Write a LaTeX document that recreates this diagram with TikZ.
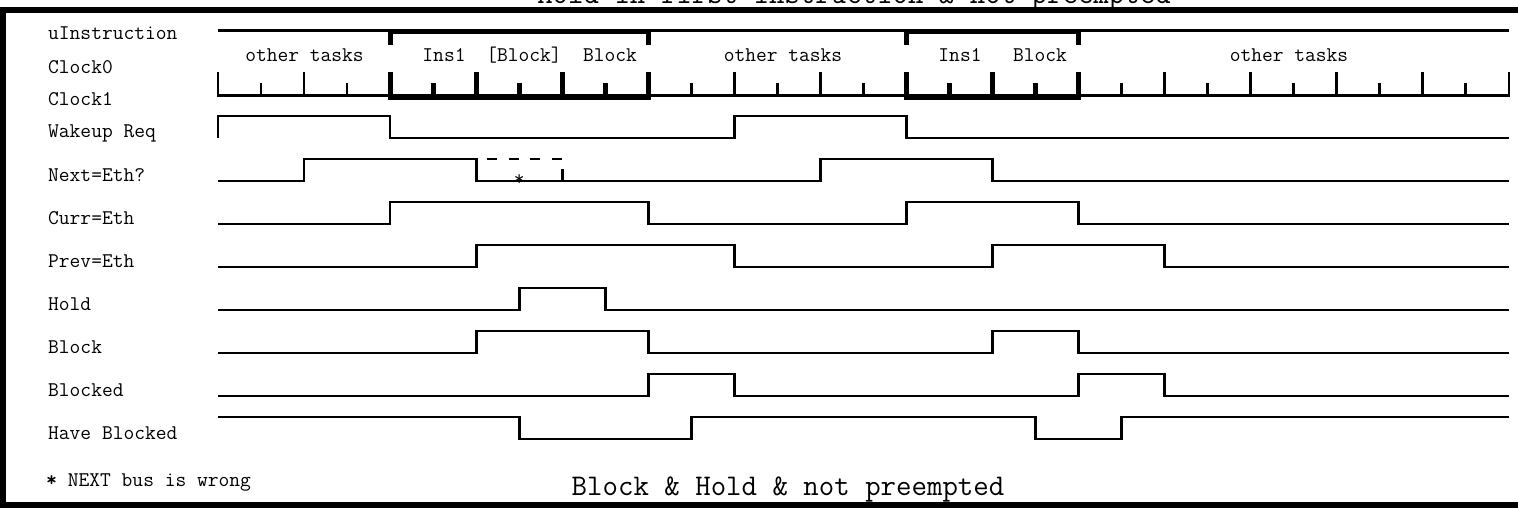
\documentclass[tikz,border=0pt]{standalone}
\usepackage{fontspec}
\usetikzlibrary{positioning}
\tikzset{
  siglabel/.style={
    anchor=base west,
    inner sep=0pt,
    font=\ttfamily\fontsize{20.9}{22}\selectfont
  },
  phase/.style={
    anchor=base,
    inner sep=0pt,
    font=\ttfamily\fontsize{20.9}{22}\selectfont
  },
  caption/.style={
    anchor=base,
    inner sep=0pt,
    font=\ttfamily\fontsize{30}{32}\selectfont
  },
  wave/.style={
    line width=2.7pt,
    line join=miter
  },
  ruler/.style={
    line width=2.8pt
  },
  bracket/.style={
    line width=4.8pt
  },
  frame/.style={
    line width=6pt
  }
}

\begin{document}
\begin{tikzpicture}[x=1pt,y=-1pt]
\useasboundingbox (0,0) rectangle (1518,508);

% --- Frame and captions ---
\draw[frame] (0,10.3) -- (1518,10.3);
\draw[frame] (2.5,7.3) -- (2.5,508);
\draw[frame] (0,505) -- (1518,505);
\node[caption] (title) at (854,3.5) {Hold in first instruction \& not preempted};
\node[caption] (case) at (788,495) {Block \& Hold \& not preempted};
\node[siglabel] (note) at (46,486.7) {\textbf{*} NEXT bus is wrong};

% --- Signal names ---
\node[siglabel] (uins) at (48,39.5) {uInstruction};
\node[siglabel] (clk0) at (48,74) {Clock0};
\node[siglabel] (clk1) at (48,106) {Clock1};
\node[siglabel] (wake) at (48,138) {Wakeup Req};
\node[siglabel] (next) at (48,181) {Next=Eth?};
\node[siglabel] (curr) at (48,224) {Curr=Eth};
\node[siglabel] (prev) at (48,267) {Prev=Eth};
\node[siglabel] (hold) at (48,310) {Hold};
\node[siglabel] (block) at (48,353) {Block};
\node[siglabel] (blkd) at (48,396) {Blocked};
\node[siglabel] (haveb) at (48,439) {Have Blocked};

% --- Instruction phases ---
\node[phase] (oth1) at (304.5,62) {other tasks};
\node[phase] (insA) at (444,62) {Ins1};
\node[phase] (blkA) at (524,62) {[Block]};
\node[phase] (blkB) at (610,62) {Block};
\node[phase] (oth2) at (783,62) {other tasks};
\node[phase] (insB) at (960,62) {Ins1};
\node[phase] (blkC) at (1040,62) {Block};
\node[phase] (oth3) at (1289,62) {other tasks};

\begin{scope}[xshift=218pt,xscale=43.03]
% --- uInstruction bar ---
\draw[ruler] (0,30.3) -- (30,30.3);
\draw[bracket] (4,45) -- (4,32) -- (10,32) -- (10,45);
\draw[bracket] (16,45) -- (16,32) -- (20,32) -- (20,45);

% --- Clock ruler ---
\draw[ruler] (0,95.5) -- (30,95.5);
\foreach \t in {0,2,...,30} \draw[ruler] (\t,97) -- (\t,72);
\foreach \t in {1,3,...,29} \draw[ruler] (\t,97) -- (\t,83);
\draw[bracket] (4,72) -- (4,97.5) -- (10,97.5) -- (10,72);
\draw[bracket] (16,72) -- (16,97.5) -- (20,97.5) -- (20,72);
\foreach \t in {6,8,18} \draw[bracket] (\t,97) -- (\t,72);
\foreach \t in {5,7,9,17,19} \draw[bracket] (\t,97) -- (\t,83);

% --- Waveforms ---
\draw[wave] (0,138) -- (0,116) -- (4,116) -- (4,138) -- (12,138) -- (12,116)
  -- (16,116) -- (16,138) -- (30,138);
\draw[wave] (0,181) -- (2,181) -- (2,159) -- (6,159) -- (6,181) -- (14,181)
  -- (14,159) -- (18,159) -- (18,181) -- (30,181);
\draw[wave,dash pattern=on 10pt off 11.6pt] (6.25,159) -- (8,159);
\draw[wave] (8,169) -- (8,181);
\node[phase,anchor=north] (star) at (7,174.5) {*};
\draw[wave] (0,224) -- (4,224) -- (4,202) -- (10,202) -- (10,224) -- (16,224)
  -- (16,202) -- (20,202) -- (20,224) -- (30,224);
\draw[wave] (0,267) -- (6,267) -- (6,245) -- (12,245) -- (12,267) -- (18,267)
  -- (18,245) -- (22,245) -- (22,267) -- (30,267);
\draw[wave] (0,310) -- (7,310) -- (7,288) -- (9,288) -- (9,310) -- (30,310);
\draw[wave] (0,353) -- (6,353) -- (6,331) -- (10,331) -- (10,353) -- (18,353)
  -- (18,331) -- (20,331) -- (20,353) -- (30,353);
\draw[wave] (0,396) -- (10,396) -- (10,374) -- (12,374) -- (12,396) -- (20,396)
  -- (20,374) -- (22,374) -- (22,396) -- (30,396);
\draw[wave] (0,417) -- (7,417) -- (7,439) -- (11,439) -- (11,417) -- (19,417)
  -- (19,439) -- (21,439) -- (21,417) -- (30,417);
\end{scope}

\end{tikzpicture}
\end{document}
